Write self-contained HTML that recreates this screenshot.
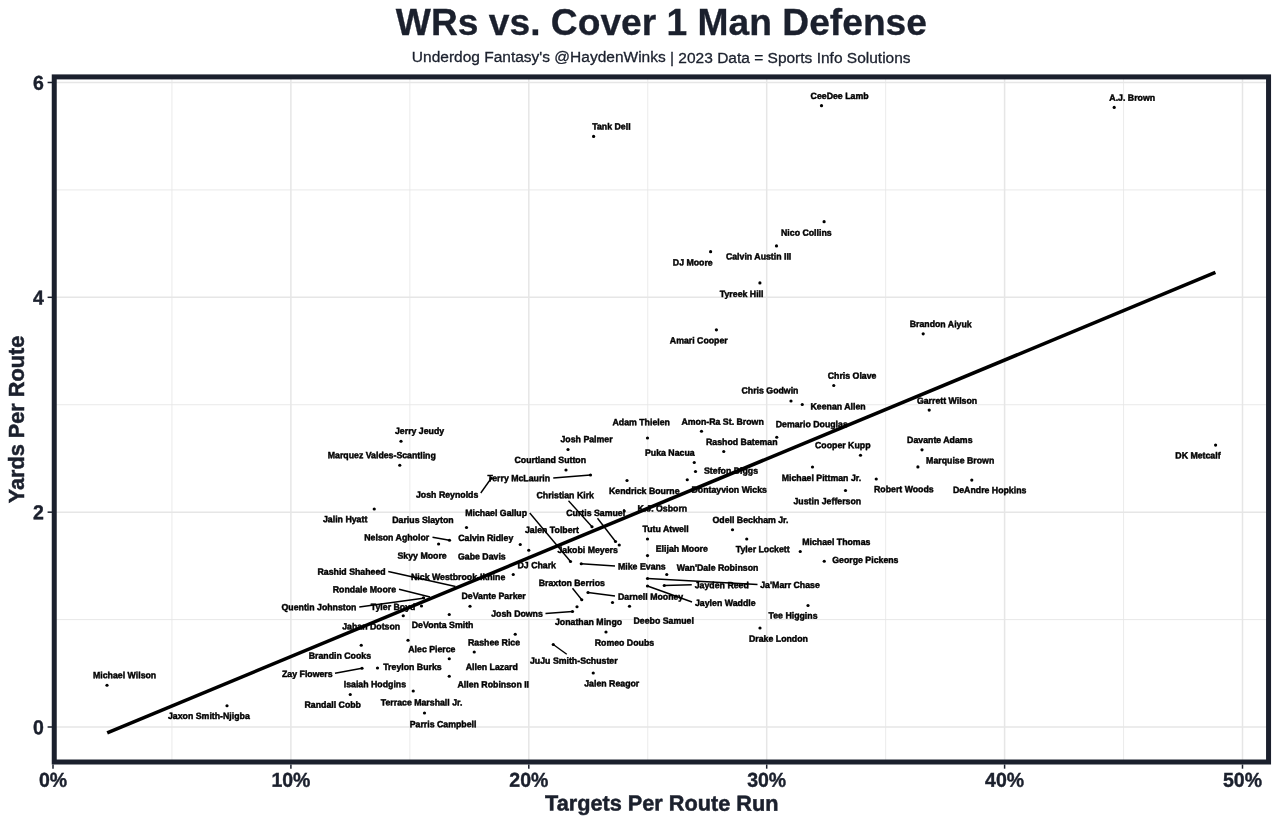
<!DOCTYPE html>
<html lang="en"><head><meta charset="utf-8"><title>WRs vs. Cover 1 Man Defense</title>
<style>
html,body{margin:0;padding:0;background:#fff;}
body{width:1280px;height:824px;overflow:hidden;}
svg{display:block;font-family:"Liberation Sans",Arial,Helvetica,sans-serif;}
.lab{font-size:8.77px;font-weight:700;fill:#000;stroke:#000;stroke-width:0.42px;}
.ax{font-size:19.5px;font-weight:700;fill:#1b202d;stroke:#1b202d;stroke-width:0.4px;}
.axt{font-size:21.7px;font-weight:700;fill:#1b202d;stroke:#1b202d;stroke-width:0.5px;}
</style></head><body>
<svg width="1280" height="824" viewBox="0 0 1280 824">
<rect width="1280" height="824" fill="#fff"/>

<g stroke="#e6e6e6" fill="none">
<line x1="171.95" y1="79" x2="171.95" y2="760" stroke-width="0.8"/>
<line x1="409.85" y1="79" x2="409.85" y2="760" stroke-width="0.8"/>
<line x1="647.75" y1="79" x2="647.75" y2="760" stroke-width="0.8"/>
<line x1="885.65" y1="79" x2="885.65" y2="760" stroke-width="0.8"/>
<line x1="1123.55" y1="79" x2="1123.55" y2="760" stroke-width="0.8"/>
<line x1="56" y1="619.58" x2="1267" y2="619.58" stroke-width="0.9"/>
<line x1="56" y1="404.74" x2="1267" y2="404.74" stroke-width="0.9"/>
<line x1="56" y1="189.90" x2="1267" y2="189.90" stroke-width="0.9"/>
<line x1="290.90" y1="79" x2="290.90" y2="760" stroke-width="1.5"/>
<line x1="528.80" y1="79" x2="528.80" y2="760" stroke-width="1.5"/>
<line x1="766.70" y1="79" x2="766.70" y2="760" stroke-width="1.5"/>
<line x1="1004.60" y1="79" x2="1004.60" y2="760" stroke-width="1.5"/>
<line x1="1242.50" y1="79" x2="1242.50" y2="760" stroke-width="1.5"/>
<line x1="56" y1="727.00" x2="1267" y2="727.00" stroke-width="1.5"/>
<line x1="56" y1="512.16" x2="1267" y2="512.16" stroke-width="1.5"/>
<line x1="56" y1="297.32" x2="1267" y2="297.32" stroke-width="1.5"/>
<line x1="56" y1="82.48" x2="1267" y2="82.48" stroke-width="1.5"/>
</g>
<g fill="#000">
<circle cx="593.60" cy="136.40" r="1.6"/>
<circle cx="821.50" cy="105.70" r="1.6"/>
<circle cx="1114.20" cy="107.40" r="1.6"/>
<circle cx="824.10" cy="221.70" r="1.6"/>
<circle cx="776.50" cy="245.90" r="1.6"/>
<circle cx="710.60" cy="251.70" r="1.6"/>
<circle cx="759.90" cy="282.90" r="1.6"/>
<circle cx="716.40" cy="329.80" r="1.6"/>
<circle cx="923.20" cy="333.80" r="1.6"/>
<circle cx="929.20" cy="410.10" r="1.6"/>
<circle cx="922.00" cy="449.80" r="1.6"/>
<circle cx="917.90" cy="466.90" r="1.6"/>
<circle cx="971.80" cy="480.10" r="1.6"/>
<circle cx="1215.60" cy="445.10" r="1.6"/>
<circle cx="876.25" cy="479.00" r="1.6"/>
<circle cx="833.75" cy="385.50" r="1.6"/>
<circle cx="791.00" cy="401.00" r="1.6"/>
<circle cx="802.25" cy="404.50" r="1.6"/>
<circle cx="701.50" cy="431.25" r="1.6"/>
<circle cx="776.75" cy="437.25" r="1.6"/>
<circle cx="647.50" cy="438.00" r="1.6"/>
<circle cx="723.75" cy="451.50" r="1.6"/>
<circle cx="860.50" cy="455.25" r="1.6"/>
<circle cx="694.25" cy="462.50" r="1.6"/>
<circle cx="695.50" cy="471.50" r="1.6"/>
<circle cx="687.25" cy="479.75" r="1.6"/>
<circle cx="812.50" cy="467.00" r="1.6"/>
<circle cx="845.50" cy="490.50" r="1.6"/>
<circle cx="627.00" cy="480.50" r="1.6"/>
<circle cx="624.20" cy="511.00" r="1.6"/>
<circle cx="732.50" cy="529.75" r="1.6"/>
<circle cx="647.50" cy="539.00" r="1.6"/>
<circle cx="746.75" cy="539.00" r="1.6"/>
<circle cx="800.25" cy="551.50" r="1.6"/>
<circle cx="647.50" cy="555.60" r="1.6"/>
<circle cx="824.25" cy="561.25" r="1.6"/>
<circle cx="666.75" cy="574.50" r="1.6"/>
<circle cx="581.25" cy="563.75" r="1.6"/>
<circle cx="647.50" cy="578.50" r="1.6"/>
<circle cx="664.25" cy="585.50" r="1.6"/>
<circle cx="647.50" cy="586.00" r="1.6"/>
<circle cx="588.00" cy="592.50" r="1.6"/>
<circle cx="808.00" cy="605.50" r="1.6"/>
<circle cx="629.50" cy="606.25" r="1.6"/>
<circle cx="760.00" cy="628.00" r="1.6"/>
<circle cx="606.00" cy="632.00" r="1.6"/>
<circle cx="568.00" cy="449.50" r="1.6"/>
<circle cx="566.00" cy="470.00" r="1.6"/>
<circle cx="590.50" cy="475.00" r="1.6"/>
<circle cx="491.25" cy="478.25" r="1.6"/>
<circle cx="592.00" cy="526.75" r="1.6"/>
<circle cx="570.50" cy="561.50" r="1.6"/>
<circle cx="615.50" cy="541.50" r="1.6"/>
<circle cx="619.25" cy="545.00" r="1.6"/>
<circle cx="513.25" cy="574.50" r="1.6"/>
<circle cx="581.75" cy="599.75" r="1.6"/>
<circle cx="470.00" cy="606.25" r="1.6"/>
<circle cx="401.00" cy="441.25" r="1.6"/>
<circle cx="399.75" cy="465.25" r="1.6"/>
<circle cx="374.25" cy="509.00" r="1.6"/>
<circle cx="466.50" cy="527.50" r="1.6"/>
<circle cx="449.50" cy="540.25" r="1.6"/>
<circle cx="520.25" cy="544.50" r="1.6"/>
<circle cx="438.60" cy="544.00" r="1.6"/>
<circle cx="528.75" cy="550.25" r="1.6"/>
<circle cx="421.50" cy="606.00" r="1.6"/>
<circle cx="572.50" cy="611.50" r="1.6"/>
<circle cx="403.25" cy="615.75" r="1.6"/>
<circle cx="449.25" cy="614.50" r="1.6"/>
<circle cx="515.25" cy="634.25" r="1.6"/>
<circle cx="408.00" cy="640.25" r="1.6"/>
<circle cx="361.25" cy="645.25" r="1.6"/>
<circle cx="474.25" cy="652.00" r="1.6"/>
<circle cx="449.25" cy="658.75" r="1.6"/>
<circle cx="362.00" cy="668.25" r="1.6"/>
<circle cx="377.50" cy="668.00" r="1.6"/>
<circle cx="449.25" cy="676.25" r="1.6"/>
<circle cx="413.25" cy="691.00" r="1.6"/>
<circle cx="350.25" cy="694.50" r="1.6"/>
<circle cx="424.50" cy="713.00" r="1.6"/>
<circle cx="553.25" cy="644.50" r="1.6"/>
<circle cx="612.50" cy="602.50" r="1.6"/>
<circle cx="593.25" cy="673.00" r="1.6"/>
<circle cx="107.00" cy="685.25" r="1.6"/>
<circle cx="227.00" cy="705.75" r="1.6"/>
<circle cx="577.00" cy="606.75" r="1.6"/>
<circle cx="423.50" cy="597.80" r="1.6"/>
</g>
<g stroke="#000" stroke-width="1.4" fill="none">
<line x1="615.00" y1="566.00" x2="581.25" y2="563.75"/>
<line x1="757.50" y1="584.50" x2="647.50" y2="578.50"/>
<line x1="691.75" y1="584.75" x2="664.25" y2="585.50"/>
<line x1="692.00" y1="602.00" x2="647.50" y2="586.00"/>
<line x1="615.00" y1="596.00" x2="588.00" y2="592.50"/>
<line x1="553.25" y1="478.00" x2="590.50" y2="475.00"/>
<line x1="480.75" y1="493.00" x2="491.25" y2="478.25"/>
<line x1="568.50" y1="500.75" x2="592.00" y2="526.75"/>
<line x1="529.75" y1="513.00" x2="570.50" y2="561.50"/>
<line x1="597.50" y1="518.25" x2="615.50" y2="541.50"/>
<line x1="572.50" y1="588.25" x2="581.75" y2="599.75"/>
<line x1="432.50" y1="537.25" x2="449.50" y2="540.25"/>
<line x1="388.25" y1="571.50" x2="455.50" y2="586.50"/>
<line x1="399.00" y1="589.25" x2="430.00" y2="597.00"/>
<line x1="359.25" y1="607.00" x2="425.00" y2="598.00"/>
<line x1="545.50" y1="613.50" x2="572.50" y2="611.50"/>
<line x1="335.00" y1="673.25" x2="362.00" y2="668.25"/>
<line x1="566.75" y1="654.25" x2="553.25" y2="644.50"/>
</g>
<g class="lab">
<text transform="translate(592.30,129.60) skewY(0.05) scale(1,1.04)">Tank Dell</text>
<text transform="translate(810.60,98.90) skewY(0.05) scale(1,1.04)">CeeDee Lamb</text>
<text transform="translate(1109.30,100.70) skewY(0.05) scale(1,1.04)">A.J. Brown</text>
<text transform="translate(781.00,235.70) skewY(0.05) scale(1,1.04)">Nico Collins</text>
<text transform="translate(725.90,259.50) skewY(0.05) scale(1,1.04)">Calvin Austin III</text>
<text transform="translate(672.80,265.60) skewY(0.05) scale(1,1.04)">DJ Moore</text>
<text transform="translate(719.80,296.90) skewY(0.05) scale(1,1.04)">Tyreek Hill</text>
<text transform="translate(669.80,343.40) skewY(0.05) scale(1,1.04)">Amari Cooper</text>
<text transform="translate(909.70,327.10) skewY(0.05) scale(1,1.04)">Brandon Aiyuk</text>
<text transform="translate(916.90,403.80) skewY(0.05) scale(1,1.04)">Garrett Wilson</text>
<text transform="translate(907.10,442.90) skewY(0.05) scale(1,1.04)">Davante Adams</text>
<text transform="translate(926.10,463.40) skewY(0.05) scale(1,1.04)">Marquise Brown</text>
<text transform="translate(952.90,493.10) skewY(0.05) scale(1,1.04)">DeAndre Hopkins</text>
<text transform="translate(1175.30,458.40) skewY(0.05) scale(1,1.04)">DK Metcalf</text>
<text transform="translate(874.00,492.30) skewY(0.05) scale(1,1.04)">Robert Woods</text>
<text transform="translate(827.75,378.80) skewY(0.05) scale(1,1.04)">Chris Olave</text>
<text transform="translate(741.50,393.55) skewY(0.05) scale(1,1.04)">Chris Godwin</text>
<text transform="translate(810.50,409.55) skewY(0.05) scale(1,1.04)">Keenan Allen</text>
<text transform="translate(681.50,424.80) skewY(0.05) scale(1,1.04)">Amon-Ra St. Brown</text>
<text transform="translate(775.75,427.30) skewY(0.05) scale(1,1.04)">Demario Douglas</text>
<text transform="translate(612.50,425.30) skewY(0.05) scale(1,1.04)">Adam Thielen</text>
<text transform="translate(706.00,445.05) skewY(0.05) scale(1,1.04)">Rashod Bateman</text>
<text transform="translate(815.00,448.30) skewY(0.05) scale(1,1.04)">Cooper Kupp</text>
<text transform="translate(645.00,455.80) skewY(0.05) scale(1,1.04)">Puka Nacua</text>
<text transform="translate(704.00,473.80) skewY(0.05) scale(1,1.04)">Stefon Diggs</text>
<text transform="translate(691.50,492.80) skewY(0.05) scale(1,1.04)">Dontayvion Wicks</text>
<text transform="translate(781.75,481.05) skewY(0.05) scale(1,1.04)">Michael Pittman Jr.</text>
<text transform="translate(793.50,504.30) skewY(0.05) scale(1,1.04)">Justin Jefferson</text>
<text transform="translate(609.00,494.05) skewY(0.05) scale(1,1.04)">Kendrick Bourne</text>
<text transform="translate(637.50,511.55) skewY(0.05) scale(1,1.04)">K.J. Osborn</text>
<text transform="translate(712.50,523.05) skewY(0.05) scale(1,1.04)">Odell Beckham Jr.</text>
<text transform="translate(642.50,532.05) skewY(0.05) scale(1,1.04)">Tutu Atwell</text>
<text transform="translate(735.75,552.30) skewY(0.05) scale(1,1.04)">Tyler Lockett</text>
<text transform="translate(802.25,545.05) skewY(0.05) scale(1,1.04)">Michael Thomas</text>
<text transform="translate(655.75,551.80) skewY(0.05) scale(1,1.04)">Elijah Moore</text>
<text transform="translate(832.25,563.05) skewY(0.05) scale(1,1.04)">George Pickens</text>
<text transform="translate(676.75,570.80) skewY(0.05) scale(1,1.04)">Wan&#39;Dale Robinson</text>
<text transform="translate(618.00,569.55) skewY(0.05) scale(1,1.04)">Mike Evans</text>
<text transform="translate(760.25,588.05) skewY(0.05) scale(1,1.04)">Ja&#39;Marr Chase</text>
<text transform="translate(694.75,588.30) skewY(0.05) scale(1,1.04)">Jayden Reed</text>
<text transform="translate(695.00,606.05) skewY(0.05) scale(1,1.04)">Jaylen Waddle</text>
<text transform="translate(618.00,599.80) skewY(0.05) scale(1,1.04)">Darnell Mooney</text>
<text transform="translate(768.50,618.60) skewY(0.05) scale(1,1.04)">Tee Higgins</text>
<text transform="translate(633.50,623.80) skewY(0.05) scale(1,1.04)">Deebo Samuel</text>
<text transform="translate(749.00,641.80) skewY(0.05) scale(1,1.04)">Drake London</text>
<text transform="translate(594.75,645.80) skewY(0.05) scale(1,1.04)">Romeo Doubs</text>
<text transform="translate(560.50,442.30) skewY(0.05) scale(1,1.04)">Josh Palmer</text>
<text transform="translate(514.50,463.05) skewY(0.05) scale(1,1.04)">Courtland Sutton</text>
<text transform="translate(487.50,481.30) skewY(0.05) scale(1,1.04)">Terry McLaurin</text>
<text transform="translate(416.00,497.80) skewY(0.05) scale(1,1.04)">Josh Reynolds</text>
<text transform="translate(536.50,498.30) skewY(0.05) scale(1,1.04)">Christian Kirk</text>
<text transform="translate(465.25,516.05) skewY(0.05) scale(1,1.04)">Michael Gallup</text>
<text transform="translate(566.25,516.05) skewY(0.05) scale(1,1.04)">Curtis Samuel</text>
<text transform="translate(525.00,533.05) skewY(0.05) scale(1,1.04)">Jalen Tolbert</text>
<text transform="translate(557.50,553.05) skewY(0.05) scale(1,1.04)">Jakobi Meyers</text>
<text transform="translate(517.50,568.30) skewY(0.05) scale(1,1.04)">DJ Chark</text>
<text transform="translate(411.00,580.05) skewY(0.05) scale(1,1.04)">Nick Westbrook-Ikhine</text>
<text transform="translate(538.75,586.05) skewY(0.05) scale(1,1.04)">Braxton Berrios</text>
<text transform="translate(461.50,599.05) skewY(0.05) scale(1,1.04)">DeVante Parker</text>
<text transform="translate(395.00,434.05) skewY(0.05) scale(1,1.04)">Jerry Jeudy</text>
<text transform="translate(327.75,458.30) skewY(0.05) scale(1,1.04)">Marquez Valdes-Scantling</text>
<text transform="translate(323.00,522.30) skewY(0.05) scale(1,1.04)">Jalin Hyatt</text>
<text transform="translate(392.25,523.05) skewY(0.05) scale(1,1.04)">Darius Slayton</text>
<text transform="translate(364.25,540.55) skewY(0.05) scale(1,1.04)">Nelson Agholor</text>
<text transform="translate(458.25,541.05) skewY(0.05) scale(1,1.04)">Calvin Ridley</text>
<text transform="translate(397.50,558.80) skewY(0.05) scale(1,1.04)">Skyy Moore</text>
<text transform="translate(458.00,559.55) skewY(0.05) scale(1,1.04)">Gabe Davis</text>
<text transform="translate(317.50,574.70) skewY(0.05) scale(1,1.04)">Rashid Shaheed</text>
<text transform="translate(332.75,592.55) skewY(0.05) scale(1,1.04)">Rondale Moore</text>
<text transform="translate(281.50,610.30) skewY(0.05) scale(1,1.04)">Quentin Johnston</text>
<text transform="translate(370.75,610.05) skewY(0.05) scale(1,1.04)">Tyler Boyd</text>
<text transform="translate(491.25,616.80) skewY(0.05) scale(1,1.04)">Josh Downs</text>
<text transform="translate(342.25,629.55) skewY(0.05) scale(1,1.04)">Jahan Dotson</text>
<text transform="translate(411.75,628.05) skewY(0.05) scale(1,1.04)">DeVonta Smith</text>
<text transform="translate(468.00,645.55) skewY(0.05) scale(1,1.04)">Rashee Rice</text>
<text transform="translate(408.25,652.30) skewY(0.05) scale(1,1.04)">Alec Pierce</text>
<text transform="translate(308.75,658.80) skewY(0.05) scale(1,1.04)">Brandin Cooks</text>
<text transform="translate(465.75,670.05) skewY(0.05) scale(1,1.04)">Allen Lazard</text>
<text transform="translate(282.00,677.05) skewY(0.05) scale(1,1.04)">Zay Flowers</text>
<text transform="translate(383.25,670.05) skewY(0.05) scale(1,1.04)">Treylon Burks</text>
<text transform="translate(457.50,687.55) skewY(0.05) scale(1,1.04)">Allen Robinson II</text>
<text transform="translate(343.75,687.30) skewY(0.05) scale(1,1.04)">Isaiah Hodgins</text>
<text transform="translate(304.50,707.80) skewY(0.05) scale(1,1.04)">Randall Cobb</text>
<text transform="translate(380.75,705.55) skewY(0.05) scale(1,1.04)">Terrace Marshall Jr.</text>
<text transform="translate(409.75,727.30) skewY(0.05) scale(1,1.04)">Parris Campbell</text>
<text transform="translate(530.00,663.80) skewY(0.05) scale(1,1.04)">JuJu Smith-Schuster</text>
<text transform="translate(555.00,625.05) skewY(0.05) scale(1,1.04)">Jonathan Mingo</text>
<text transform="translate(584.25,686.55) skewY(0.05) scale(1,1.04)">Jalen Reagor</text>
<text transform="translate(93.00,678.30) skewY(0.05) scale(1,1.04)">Michael Wilson</text>
<text transform="translate(168.00,719.05) skewY(0.05) scale(1,1.04)">Jaxon Smith-Njigba</text>
</g>
<line x1="107.2" y1="732.95" x2="1215.4" y2="272.45" stroke="#000" stroke-width="3.55"/>
<rect x="54.25" y="76.9" width="1214.3" height="685.1" fill="none" stroke="#1b202d" stroke-width="5"/>
<g stroke="#1b202d" stroke-width="1.5">
<line x1="53.00" y1="764.5" x2="53.00" y2="768.7"/>
<line x1="290.90" y1="764.5" x2="290.90" y2="768.7"/>
<line x1="528.80" y1="764.5" x2="528.80" y2="768.7"/>
<line x1="766.70" y1="764.5" x2="766.70" y2="768.7"/>
<line x1="1004.60" y1="764.5" x2="1004.60" y2="768.7"/>
<line x1="1242.50" y1="764.5" x2="1242.50" y2="768.7"/>
<line x1="47.6" y1="727.00" x2="52" y2="727.00"/>
<line x1="47.6" y1="512.16" x2="52" y2="512.16"/>
<line x1="47.6" y1="297.32" x2="52" y2="297.32"/>
<line x1="47.6" y1="82.48" x2="52" y2="82.48"/>
</g>
<g class="ax">
<text transform="translate(53.00,786.8) skewY(0.05) scale(1,1.03)" text-anchor="middle">0%</text>
<text transform="translate(290.90,786.8) skewY(0.05) scale(1,1.03)" text-anchor="middle">10%</text>
<text transform="translate(528.80,786.8) skewY(0.05) scale(1,1.03)" text-anchor="middle">20%</text>
<text transform="translate(766.70,786.8) skewY(0.05) scale(1,1.03)" text-anchor="middle">30%</text>
<text transform="translate(1004.60,786.8) skewY(0.05) scale(1,1.03)" text-anchor="middle">40%</text>
<text transform="translate(1242.50,786.8) skewY(0.05) scale(1,1.03)" text-anchor="middle">50%</text>
<text transform="translate(43.8,734.20) skewY(0.05) scale(1,1.03)" text-anchor="end">0</text>
<text transform="translate(43.8,519.36) skewY(0.05) scale(1,1.03)" text-anchor="end">2</text>
<text transform="translate(43.8,304.52) skewY(0.05) scale(1,1.03)" text-anchor="end">4</text>
<text transform="translate(43.8,89.68) skewY(0.05) scale(1,1.03)" text-anchor="end">6</text>
</g>
<text class="axt" transform="translate(661.7,810.6) skewY(0.03)" text-anchor="middle">Targets Per Route Run</text>
<text class="axt" transform="translate(23.7,419.5) rotate(-90)" text-anchor="middle">Yards Per Route</text>
<text transform="translate(661.4,35) skewY(0.02)" text-anchor="middle" style="font-size:37.2px;font-weight:700;fill:#1b202d;stroke:#1b202d;stroke-width:0.3px">WRs vs. Cover 1 Man Defense</text>
<text transform="translate(661.2,62.5) skewY(0.02)" text-anchor="middle" style="font-size:15.5px;fill:#1b202d;stroke:#1b202d;stroke-width:0.3px">Underdog Fantasy&#39;s @HaydenWinks | 2023 Data = Sports Info Solutions</text>
</svg></body></html>
